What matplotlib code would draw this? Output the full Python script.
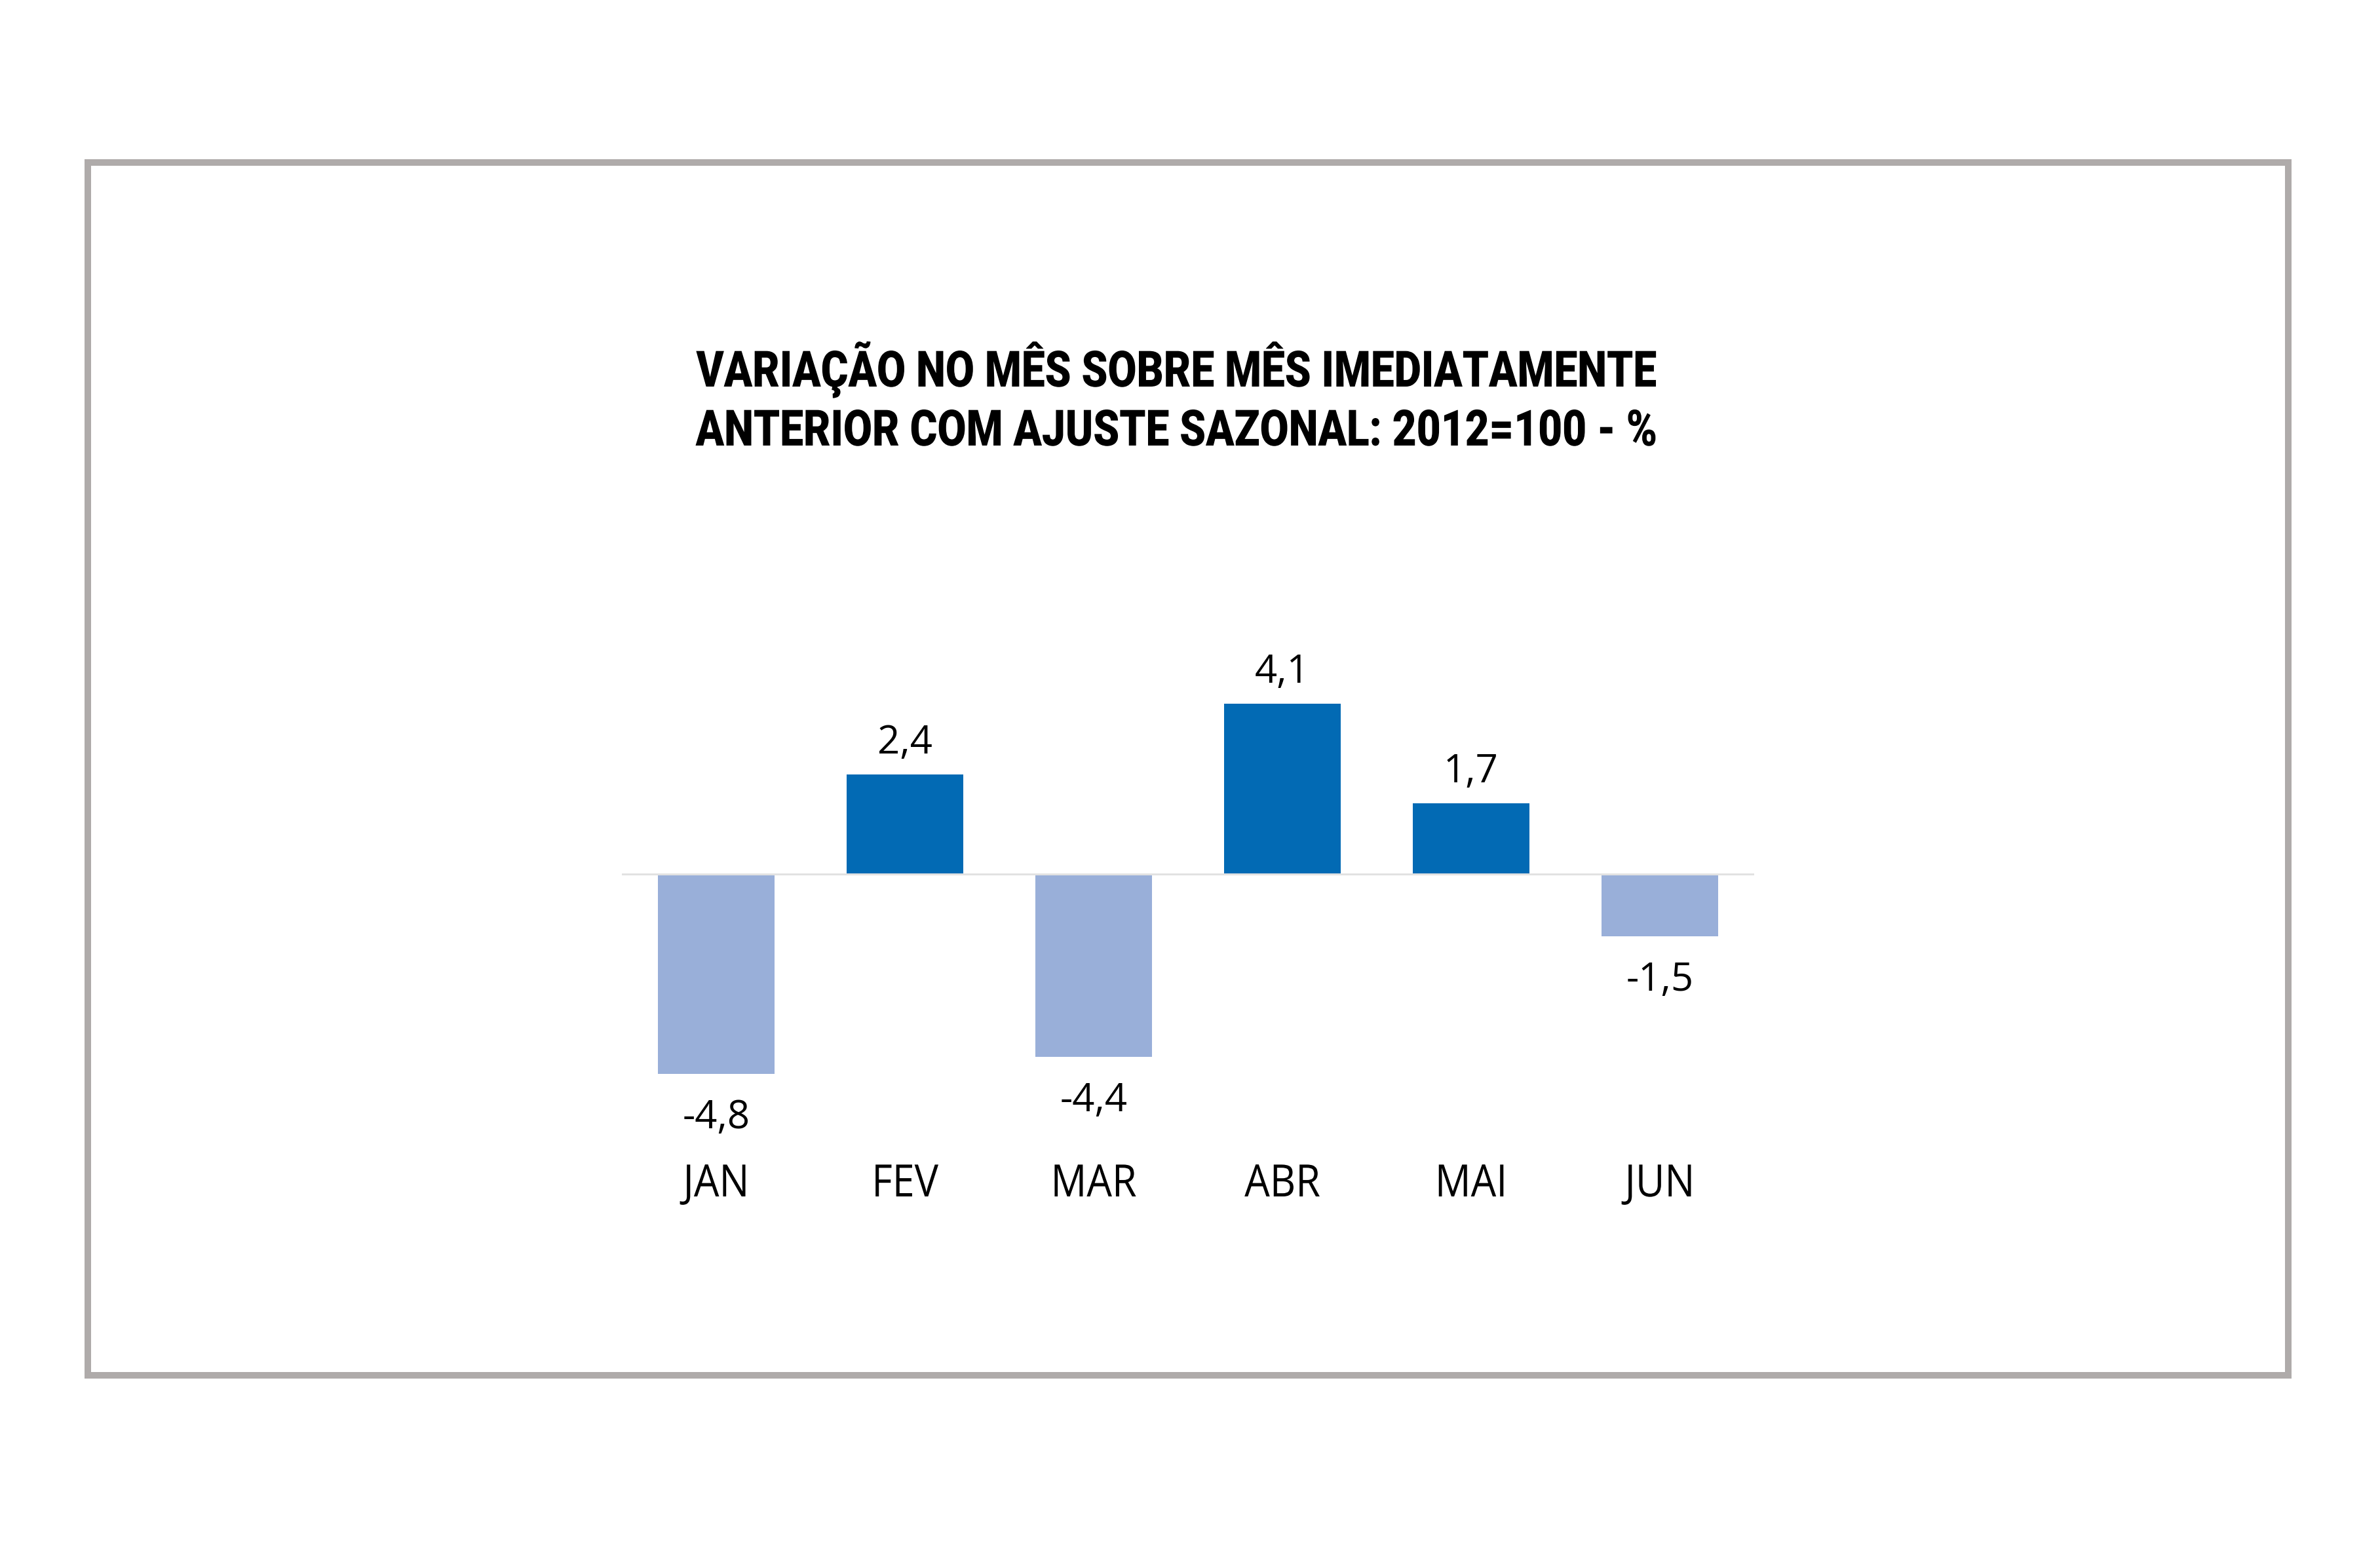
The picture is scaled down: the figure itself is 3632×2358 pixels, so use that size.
import matplotlib
matplotlib.use("Agg")
import matplotlib.pyplot as plt
import matplotlib.transforms as mtransforms
from matplotlib.patches import Rectangle
from matplotlib.patheffects import AbstractPathEffect

months = ["JAN", "FEV", "MAR", "ABR", "MAI", "JUN"]
values = [-4.8, 2.4, -4.4, 4.1, 1.7, -1.5]
title_lines = ["VARIAÇÃO NO MÊS SOBRE MÊS IMEDIATAMENTE",
               "ANTERIOR COM AJUSTE SAZONAL: 2012=100 - %"]

W, H = 3632, 2358
DPI = 100
fig = plt.figure(figsize=(W / DPI, H / DPI), dpi=DPI)
fig.patch.set_facecolor("white")
renderer = fig.canvas.get_renderer()


class Condense(AbstractPathEffect):
    """Draw the text compressed horizontally around a display x."""
    def __init__(self, sx, cx):
        super().__init__()
        self.sx = sx
        self.cx = cx

    def draw_path(self, renderer, gc, tpath, affine, rgbFace=None):
        t = affine + mtransforms.Affine2D().translate(-self.cx, 0).scale(self.sx, 1).translate(self.cx, 0)
        renderer.draw_path(gc, tpath, t, rgbFace)


def fx(px):
    return px / W


def fy(py):
    return 1 - py / H


# outer grey frame
frame = Rectangle((fx(134), fy(2099)), fx(3492) - fx(134), fy(248) - fy(2099),
                  transform=fig.transFigure, fill=False,
                  edgecolor="#AFABAA", linewidth=10 * 72 / DPI)
fig.patches.append(frame)

# title
tfont = ["Roboto", "DejaVu Sans"]
title_cx = 1795
title_target_w = 1465
tl = []
for line, base in zip(title_lines, [590, 680]):
    t = fig.text(fx(title_cx), fy(base), line, ha="center", va="baseline",
                 fontsize=55, fontweight=900, family=tfont, color="black")
    tl.append(t)
w0 = tl[0].get_window_extent(renderer).width
sx_title = title_target_w / w0
for t in tl:
    t.set_path_effects([Condense(sx_title, title_cx)])

# axes
left_px, right_px = 949, 2677
top_px, bot_px = 953, 1715
ax = fig.add_axes([fx(left_px), fy(bot_px), (right_px - left_px) / W,
                   (bot_px - top_px) / H])
ax.set_xlim(-0.5, len(months) - 0.5)
ax.set_ylim(-6, 6)
ax.axis("off")

pos_color = "#026AB4"
neg_color = "#99AFD9"
x = list(range(len(months)))
colors = [pos_color if v >= 0 else neg_color for v in values]
ax.bar(x, values, width=0.618, color=colors, zorder=2)
ax.axhline(0, color="#E2E2E2", linewidth=3 * 72 / DPI, zorder=3)

lab_font = ["Open Sans", "DejaVu Sans"]
for xi, v in zip(x, values):
    txt = f"{v:.1f}".replace(".", ",")
    if v >= 0:
        off = 32 * 72 / DPI
    else:
        off = -83 * 72 / DPI
    ax.annotate(txt, (xi, v), xytext=(0, off), textcoords="offset points",
                ha="center", va="baseline", fontsize=43, family=lab_font,
                color="black")

trans = mtransforms.blended_transform_factory(ax.transData, fig.transFigure)
mfont = ["Open Sans", "DejaVu Sans"]
mtexts = []
for xi, m in zip(x, months):
    t = ax.text(xi, fy(1826), m, transform=trans, ha="center", va="baseline",
                fontsize=49, fontweight=500, family=mfont, color="black")
    mtexts.append((xi, t))
jan_w = mtexts[0][1].get_window_extent(renderer).width
sx_m = 101 / jan_w
for xi, t in mtexts:
    cx = ax.transData.transform((xi, 0))[0]
    t.set_path_effects([Condense(sx_m, cx)])

fig.savefig("out.png", dpi=DPI, facecolor="white")
